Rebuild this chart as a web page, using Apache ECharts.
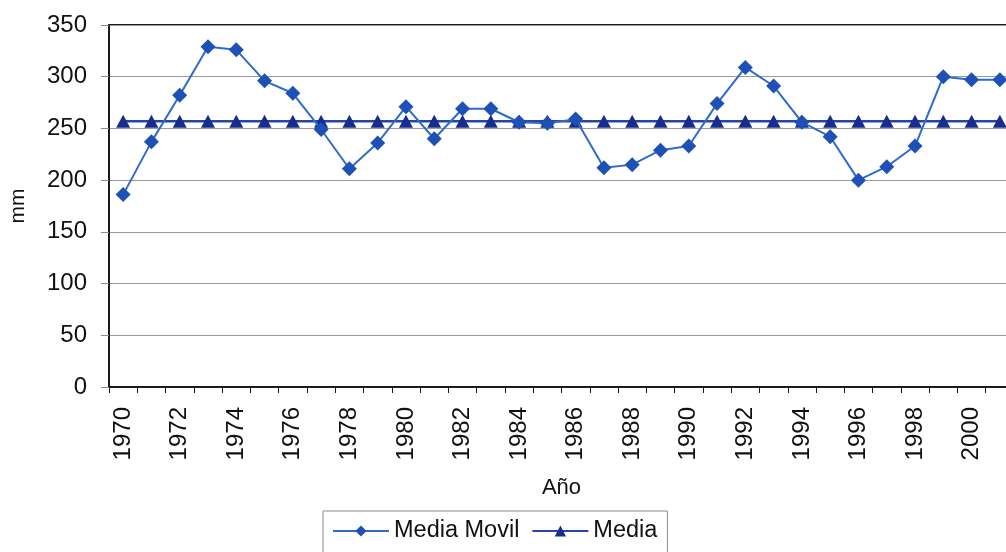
<!DOCTYPE html>
<html>
<head>
<meta charset="utf-8">
<script src="https://cdn.jsdelivr.net/npm/echarts@6/dist/echarts.min.js"></script>
<style>
  html, body { margin: 0; padding: 0; background: #ffffff; overflow: hidden; }
  #chart { width: 1018px; height: 552px; }
</style>
</head>
<body>
<div id="chart"></div>
<script>
// Years on the category axis
const years = [
  '1970','1971','1972','1973','1974','1975','1976','1977','1978','1979',
  '1980','1981','1982','1983','1984','1985','1986','1987','1988','1989',
  '1990','1991','1992','1993','1994','1995','1996','1997','1998','1999',
  '2000','2001'
];

// Moving average of rainfall (mm)
const mediaMovil = [
  186, 237, 282, 329, 326, 296, 284, 249, 211, 236,
  271, 240, 269, 269, 256, 255, 259, 212, 215, 229,
  233, 274, 309, 291, 256, 242, 200, 213, 233, 300,
  297, 297
];

// Long-term mean (mm)
const mediaValue = 257;
const media = years.map(() => mediaValue);

// Y axis range
const yMin = 0, yMax = 350, yStep = 50;

const FONT = 'Liberation Sans, Arial, sans-serif';

const chart = echarts.init(document.getElementById('chart'), null, { renderer: 'canvas' });

chart.setOption({
  backgroundColor: '#ffffff',
  animation: false,
  textStyle: { fontFamily: FONT, color: '#111' },
  grid: {
    left: 105, top: 25, right: 4, bottom: 165,
    show: true, borderColor: '#1a1a1a', borderWidth: 2, backgroundColor: 'transparent'
  },
  legend: {
    data: ['Media Movil', 'Media'],
    left: 323, top: 511,
    orient: 'horizontal',
    borderColor: '#8a8a8a', borderWidth: 1,
    padding: [8, 10, 20, 9],
    itemWidth: 56, itemHeight: 14, itemGap: 12,
    textStyle: { fontFamily: FONT, fontSize: 23.5, color: '#111' }
  },
  xAxis: {
    type: 'category',
    data: years,
    boundaryGap: true,
    name: 'Año',
    nameLocation: 'middle',
    nameGap: 90,
    nameTextStyle: { fontFamily: FONT, fontSize: 22, color: '#111' },
    axisLine: { lineStyle: { color: '#1a1a1a', width: 2 } },
    axisTick: { show: true, interval: 0, length: 6, lineStyle: { color: '#1a1a1a' } },
    axisLabel: {
      interval: 1, rotate: 90, margin: 20,
      fontFamily: FONT, fontSize: 24, color: '#111'
    },
    splitLine: { show: false }
  },
  yAxis: {
    type: 'value',
    min: yMin, max: yMax, interval: yStep,
    name: 'mm',
    nameLocation: 'middle',
    nameGap: 80,
    nameRotate: 90,
    nameTextStyle: { fontFamily: FONT, fontSize: 21, color: '#111' },
    axisLine: { show: true, lineStyle: { color: '#1a1a1a', width: 2 } },
    axisTick: { show: true, length: 8, lineStyle: { color: '#8a8a8a' } },
    axisLabel: { margin: 22, fontFamily: FONT, fontSize: 24, color: '#111' },
    splitLine: { show: true, lineStyle: { color: '#9a9a9a', width: 1.2 } }
  },
  series: [
    {
      name: 'Media',
      type: 'line',
      data: media,
      symbol: 'triangle',
      symbolSize: [14, 13],
      showAllSymbol: true,
      lineStyle: { color: '#2545a8', width: 2.5 },
      itemStyle: { color: '#172c8c' },
      z: 2
    },
    {
      name: 'Media Movil',
      type: 'line',
      data: mediaMovil,
      symbol: 'diamond',
      symbolSize: 15,
      showAllSymbol: true,
      lineStyle: { color: '#2f6bc9', width: 2 },
      itemStyle: { color: '#1f50b5' },
      z: 3
    }
  ]
});
</script>
</body>
</html>
